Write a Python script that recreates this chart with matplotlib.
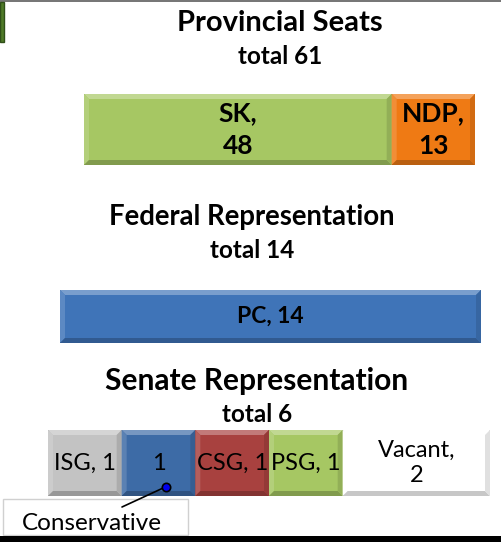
import numpy as np
import matplotlib.pyplot as plt
from matplotlib.patches import Polygon, Rectangle
from matplotlib.colors import to_rgb
import matplotlib.patheffects as pe

plt.rcParams['font.family'] = ['Lato', 'DejaVu Sans']

# data
prov_parties = ['SK', 'NDP']
prov_seats = [48, 13]
prov_colors = ['#a6c763', '#ef7a14']

fed_parties = ['PC']
fed_seats = [14]
fed_colors = ['#3f74b8']

sen_labels = ['ISG, 1', '1', 'CSG, 1', 'PSG, 1', 'Vacant,\n2']
sen_seats = [1, 1, 1, 1, 2]
sen_colors = ['#c3c3c3', '#3d6ba6', '#a8413f', '#a6c763', '#ffffff']

W, H = 501, 542
fig = plt.figure(figsize=(W / 100, H / 100), dpi=100)


def px_axes(x0, y0, x1, y1):
    # pixel box (top-left origin) -> axes
    return fig.add_axes([x0 / W, 1 - y1 / H, (x1 - x0) / W, (y1 - y0) / H])


def shade(c, f):
    c = np.array(to_rgb(c))
    if f > 0:
        return tuple(c + (1 - c) * f)
    return tuple(c * (1 + f))


def bevel(ax, bars, total, wpx, hpx, b=5):
    dx = b * total / wpx
    dy = b / hpx
    for p in bars:
        x0, y0 = p.get_x(), p.get_y()
        x1, y1 = x0 + p.get_width(), y0 + p.get_height()
        c = p.get_facecolor()
        sides = [
            ([(x0, y1), (x1, y1), (x1 - dx, y1 - dy), (x0 + dx, y1 - dy)], 0.3),
            ([(x0, y0), (x0, y1), (x0 + dx, y1 - dy), (x0 + dx, y0 + dy)], 0.15),
            ([(x0, y0), (x1, y0), (x1 - dx, y0 + dy), (x0 + dx, y0 + dy)], -0.22),
            ([(x1, y0), (x1, y1), (x1 - dx, y1 - dy), (x1 - dx, y0 + dy)], -0.12),
        ]
        for pts, f in sides:
            ax.add_patch(Polygon(pts, closed=True, facecolor=shade(c, f),
                                 edgecolor='none', zorder=3))


def stacked(box, values, colors, labels, size, weight, ls=1.2):
    ax = px_axes(*box)
    total = sum(values)
    left = np.concatenate([[0], np.cumsum(values)[:-1]])
    bars = ax.barh(0, values, left=left, height=1, color=colors,
                   edgecolor=[shade(c, -0.2) for c in colors], linewidth=0.8,
                   zorder=2)
    for p in bars:
        p.set_path_effects([pe.SimplePatchShadow(offset=(1, -3), alpha=0.35),
                            pe.Normal()])
    bevel(ax, bars, total, box[2] - box[0], box[3] - box[1])
    for l, v, lab in zip(left, values, labels):
        ax.text(l + v / 2, 0, lab, ha='center', va='center', fontsize=size,
                fontweight=weight, color='black', zorder=5, linespacing=ls)
    ax.set_xlim(0, total)
    ax.set_ylim(-0.5, 0.5)
    ax.axis('off')
    return ax


# provincial
fig.text(280 / W, 1 - 23 / H, 'Provincial Seats', ha='center', va='center',
         fontsize=21, fontweight='bold')
fig.text(280 / W, 1 - 57 / H, 'total 61', ha='center', va='center',
         fontsize=17.5, fontweight='bold')
stacked((84, 94, 475, 165), prov_seats, prov_colors,
        [f'{p},\n{s}' for p, s in zip(prov_parties, prov_seats)], 19, 'bold',
        ls=1.45)

# federal
fig.text(252 / W, 1 - 217 / H, 'Federal Representation', ha='center',
         va='center', fontsize=19.8, fontweight='bold')
fig.text(252 / W, 1 - 250 / H, 'total 14', ha='center', va='center',
         fontsize=17.5, fontweight='bold')
stacked((60, 290, 481, 343), fed_seats, fed_colors,
        [f'{p}, {s}' for p, s in zip(fed_parties, fed_seats)], 16.5, 'bold')

# senate
fig.text(257 / W, 1 - 381 / H, 'Senate Representation', ha='center',
         va='center', fontsize=21.5, fontweight='bold')
fig.text(257 / W, 1 - 414 / H, 'total 6', ha='center', va='center',
         fontsize=17.5, fontweight='bold')
ax_s = stacked((48, 430, 490, 496), sen_seats, sen_colors, sen_labels,
               17, 'normal', ls=1.2)

# conservative callout box
fig.patches.append(Rectangle((3 / W, 1 - 535 / H), 185 / W, 36 / H,
                             transform=fig.transFigure, facecolor='white',
                             edgecolor='#d0d0d0', linewidth=1, zorder=-1))
fig.text(92 / W, 1 - 524 / H, 'Conservative', ha='center', va='center',
         fontsize=17.5)
ax_s.annotate('', xy=(1.6, -0.36), xytext=(122 / W, 1 - 507 / H),
              textcoords='figure fraction', annotation_clip=False,
              arrowprops=dict(arrowstyle='-', color='black', lw=1.2,
                              shrinkA=0, shrinkB=0), zorder=6)
ax_s.plot(1.6, -0.36, 'o', ms=6, mfc='#0000ee', mec='black', mew=1.2,
          zorder=7, clip_on=False)

# frame bits
fig.patches.append(Rectangle((0, 1 - 2 / H), 1, 2 / H, transform=fig.transFigure,
                             facecolor='#777777', edgecolor='none'))
fig.patches.append(Rectangle((0, 0), 1, 6 / H, transform=fig.transFigure,
                             facecolor='black', edgecolor='none'))
fig.patches.append(Rectangle((0, 1 - 42 / H), 4 / W, 40 / H,
                             transform=fig.transFigure, facecolor='#4f7a28',
                             edgecolor='#2f4f18', linewidth=1))

fig.savefig('out.png', dpi=100)
